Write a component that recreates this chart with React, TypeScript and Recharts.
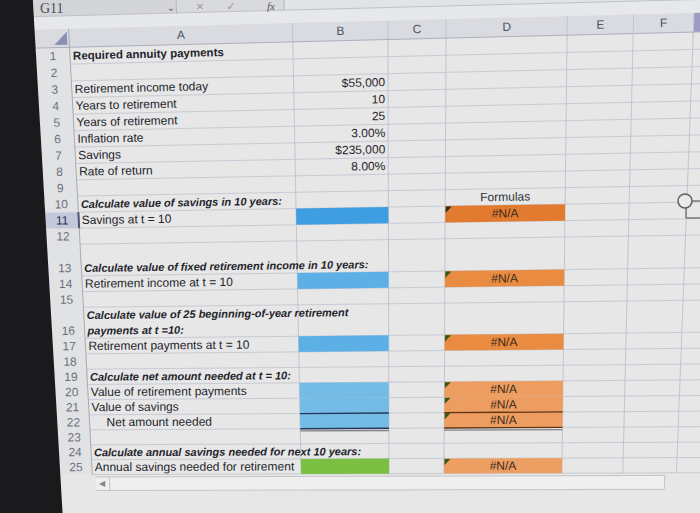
import React from "react";
import {
  ComposedChart,
  XAxis,
  YAxis,
  Scatter,
  ReferenceArea,
  ReferenceLine,
  ReferenceDot,
} from "recharts";

// ---------------- data ----------------
const columnLetters = ["A", "B", "C", "D", "E", "F"];
const rowNumbers = [1, 2, 3, 4, 5, 6, 7, 8, 9, 10, 11, 12, 13, 14, 15, 16, 17, 18, 19, 20, 21, 22, 23, 24, 25];

const labelRows = [1, 3, 4, 5, 6, 7, 8, 10, 11, 13, 14, 16, 16, 17, 19, 20, 21, 22, 24, 25];
const labelTexts = [
  "Required annuity payments",
  "Retirement income today",
  "Years to retirement",
  "Years of retirement",
  "Inflation rate",
  "Savings",
  "Rate of return",
  "Calculate value of savings in 10 years:",
  "Savings at t = 10",
  "Calculate value of fixed retirement income in 10 years:",
  "Retirement income at t = 10",
  "Calculate value of 25 beginning-of-year retirement",
  "payments at t =10:",
  "Retirement payments at t = 10",
  "Calculate net amount needed at t = 10:",
  "Value of retirement payments",
  "Value of savings",
  "Net amount needed",
  "Calculate annual savings needed for next 10 years:",
  "Annual savings needed for retirement",
];
const titleRows = [1];
const headingRows = [10, 13, 16, 19, 24];
const indentedRows = [22];

const inputRows = [3, 4, 5, 6, 7, 8];
const inputValues = ["$55,000", "10", "25", "3.00%", "$235,000", "8.00%"];

const formulaHeaderRow = 10;
const formulaHeaderText = "Formulas";
const resultRows = [11, 14, 17, 20, 21, 22, 25];
const resultValues = ["#N/A", "#N/A", "#N/A", "#N/A", "#N/A", "#N/A", "#N/A"];

const answerRows = [11, 14, 17, 20, 21, 22, 25];
const answerKinds = ["blue", "blue", "blue", "blue", "blue", "blue", "green"];

const selectedRow = 11;
const nameBoxText = "G11";

// ---------------- layout & style ----------------
const FONT = "'Liberation Sans', Arial, sans-serif";
const W = 700;
const H = 513;
const COL_EDGES = [70, 293, 388, 446, 567, 633, 693]; // left of A .. right of F
const ROWHEAD_LEFT = 36;
const DOUBLE_ROWS = [13, 16];
const SHIFT_PTS: [number, number][] = [
  [0, 26], [70, 22], [293, 8], [388, 1], [446, -2], [567, -5], [633, -10], [700, -17],
];

const B_FILL: Record<number, string> = {
  11: "#3f9de2", 14: "#5cb0e6", 17: "#5cb0e6", 20: "#74bbe6", 21: "#74bbe6", 22: "#74bbe6",
};
const GREEN_FILL = "#7cc043";
const D_FILL: Record<number, string> = {
  11: "#e27b2f", 14: "#e98b40", 17: "#e98b40", 20: "#ed9d60", 21: "#ed9d60", 22: "#ed9d60", 25: "#ed9e62",
};

type Pt = { x: number; y: number };

function bx(X: number): number {
  if (X <= SHIFT_PTS[0][0]) return SHIFT_PTS[0][1];
  for (let i = 1; i < SHIFT_PTS.length; i++) {
    const [x0, y0] = SHIFT_PTS[i - 1];
    const [x1, y1] = SHIFT_PTS[i];
    if (X <= x1) return y0 + ((y1 - y0) * (X - x0)) / (x1 - x0);
  }
  return SHIFT_PTS[SHIFT_PTS.length - 1][1];
}
function slope(Y: number) {
  return -0.025 + (0.022 * (Y - 35)) / 433;
}
function warp(X: number, Y: number): Pt {
  const t = (Y - 55) / 413;
  return { x: X + t * bx(X), y: Y + slope(Y) * (X - 100) };
}
function tiltDeg(Y: number) {
  return (Math.atan(slope(Y)) * 180) / Math.PI;
}
function edgeY(u: number) {
  return 46.56 + 16.9 * u - 0.039 * u * u;
}
function unitStart(r: number) {
  let u = r - 1;
  if (r > 13) u++;
  if (r > 16) u++;
  return u;
}
function rowUnits(r: number) {
  return DOUBLE_ROWS.includes(r) ? 2 : 1;
}
const rowTop = (r: number) => edgeY(unitStart(r));
const rowBottom = (r: number) => edgeY(unitStart(r) + rowUnits(r));
const lineY = (r: number, line = -1) => {
  const n = rowUnits(r);
  const idx = line < 0 ? n - 1 : line;
  return edgeY(unitStart(r) + idx + 0.5);
};
const SHEET_TOP = edgeY(0);
const SHEET_BOTTOM = edgeY(27);
const colLeft = (c: number) => COL_EDGES[c];
const colRight = (c: number) => COL_EDGES[c + 1];

// ---------------- element builders ----------------
function poly(key: string, pts: Pt[], fill: string, z: number) {
  const xs = pts.map((p) => p.x);
  const ys = pts.map((p) => p.y);
  const x1 = Math.min(...xs);
  const x2 = Math.max(...xs);
  const y1 = Math.min(...ys);
  const y2 = Math.max(...ys);
  const w = x2 - x1 || 1;
  const h = y2 - y1 || 1;
  const fr = pts.map((p) => [(p.x - x1) / w, (p.y - y1) / h]);
  const shape = (props: any) => {
    const { x, y, width, height } = props;
    const points = fr.map(([fx, fy]) => `${x + fx * width},${y + fy * height}`).join(" ");
    return <polygon points={points} fill={fill} stroke="none" />;
  };
  return (
    <ReferenceArea
      key={key}
      x1={x1}
      x2={x2}
      y1={y1}
      y2={y2}
      ifOverflow="visible"
      zIndex={z}
      shape={shape}
    />
  );
}
function cell(key: string, Xl: number, Xr: number, Yt: number, Yb: number, fill: string, z: number) {
  return poly(key, [warp(Xl, Yt), warp(Xr, Yt), warp(Xr, Yb), warp(Xl, Yb)], fill, z);
}
function seg(key: string, a: Pt, b: Pt, stroke: string, width: number, z: number) {
  return (
    <ReferenceLine
      key={key}
      segment={[a, b]}
      stroke={stroke}
      strokeWidth={width}
      ifOverflow="visible"
      zIndex={z}
    />
  );
}
function hline(key: string, Y: number, X0: number, X1: number, stroke: string, width: number, z: number) {
  const stops = [X0, ...COL_EDGES.filter((e) => e > X0 && e < X1), X1];
  const out: React.ReactElement[] = [];
  for (let i = 1; i < stops.length; i++) {
    out.push(seg(`${key}-${i}`, warp(stops[i - 1], Y), warp(stops[i], Y), stroke, width, z));
  }
  return out;
}
function vline(key: string, X: number, Y0: number, Y1: number, stroke: string, width: number, z: number) {
  return seg(key, warp(X, Y0), warp(X, Y1), stroke, width, z);
}

type TextItem = {
  x: number;
  y: number;
  text: string;
  anchor: "start" | "middle" | "end";
  size: number;
  weight?: string;
  italic?: boolean;
  color: string;
  family?: string;
  angle?: number;
  baseline?: string;
};

function sheetText(X: number, Y: number, text: string, o: Partial<TextItem>): TextItem {
  const p = warp(X, Y);
  return {
    x: p.x,
    y: p.y,
    text,
    anchor: o.anchor ?? "start",
    size: o.size ?? 12,
    weight: o.weight,
    italic: o.italic,
    color: o.color ?? "#24242c",
    angle: tiltDeg(Y),
  };
}

// ---------------- build texts ----------------
const textItems: TextItem[] = [];
columnLetters.forEach((c, i) => {
  textItems.push(
    sheetText((colLeft(i) + colRight(i)) / 2, 37, c, { anchor: "middle", color: "#4e515c", size: 12 })
  );
});
rowNumbers.forEach((r) => {
  textItems.push(
    sheetText(53, lineY(r), String(r), {
      anchor: "middle",
      color: r === selectedRow ? "#2c3458" : "#6d707c",
      size: 12,
    })
  );
});
const seenRow: Record<number, number> = {};
labelRows.forEach((r, i) => {
  const line = seenRow[r] ?? 0;
  seenRow[r] = line + 1;
  const isDoubleText = labelRows.filter((x) => x === r).length > 1;
  const Y = isDoubleText ? lineY(r, line) : lineY(r);
  const heading = headingRows.includes(r);
  const title = titleRows.includes(r);
  textItems.push(
    sheetText(indentedRows.includes(r) ? 88 : 73, Y, labelTexts[i], {
      anchor: "start",
      size: heading ? 11 : title ? 11.5 : 12,
      weight: heading || title ? "bold" : "normal",
      italic: heading,
    })
  );
});
inputRows.forEach((r, i) => {
  textItems.push(sheetText(colRight(1) - 3, lineY(r), inputValues[i], { anchor: "end", color: "#26262c" }));
});
textItems.push(
  sheetText((colLeft(3) + colRight(3)) / 2, lineY(formulaHeaderRow), formulaHeaderText, {
    anchor: "middle",
    color: "#2d303a",
  })
);
resultRows.forEach((r, i) => {
  textItems.push(
    sheetText((colLeft(3) + colRight(3)) / 2, lineY(r), resultValues[i], { anchor: "middle", color: "#3a2a1e" })
  );
});
// window chrome text (formula bar, scroll arrow)
const chromeTexts: TextItem[] = [
  { x: 40, y: 12.5, text: nameBoxText, anchor: "start", size: 14, color: "#4c4c50", family: "'Liberation Serif', serif", baseline: "alphabetic" },
  { x: 171, y: 7, text: "⌄", anchor: "middle", size: 10, color: "#666", family: "'DejaVu Sans', sans-serif" },
  { x: 200, y: 6, text: "✕", anchor: "middle", size: 10, color: "#9a9a9e", family: "'DejaVu Sans', sans-serif" },
  { x: 231, y: 6, text: "✓", anchor: "middle", size: 11, color: "#9a9a9e", family: "'DejaVu Sans', sans-serif" },
  { x: 271, y: 6, text: "fx", anchor: "middle", size: 11, italic: true, color: "#555", family: "'Liberation Serif', serif" },
];
const scrollY = SHEET_BOTTOM + 9;
const arrowPt = warp(80, scrollY);
chromeTexts.push({ x: arrowPt.x, y: arrowPt.y, text: "◀", anchor: "middle", size: 8, color: "#85878a", family: "'DejaVu Sans', sans-serif" });
const allTexts = [...textItems, ...chromeTexts];

const TextShape = (props: any) => {
  const { cx, cy, payload } = props;
  if (cx == null || cy == null || !payload) return <g />;
  const p = payload as TextItem;
  return (
    <text
      x={cx}
      y={cy}
      textAnchor={p.anchor}
      dominantBaseline={p.baseline ?? "central"}
      fontFamily={p.family ?? FONT}
      fontSize={p.size}
      fontWeight={p.weight ?? "normal"}
      fontStyle={p.italic ? "italic" : "normal"}
      fill={p.color}
      transform={p.angle ? `rotate(${p.angle.toFixed(3)} ${cx} ${cy})` : undefined}
    >
      {p.text}
    </text>
  );
};

// ---------------- build shapes ----------------
function buildShapes(): React.ReactElement[] {
  const els: React.ReactElement[] = [];
  // backgrounds
  els.push(cell("bg-name", ROWHEAD_LEFT - 10, 178, -30, 15, "#d4d5d9", 10));
  els.push(cell("bg-icons", 178, 285, -30, 15, "#d9dadd", 10));
  els.push(cell("bg-input", 285, 740, -30, 15, "#e2e3e5", 10));
  els.push(cell("bg-gap", ROWHEAD_LEFT - 10, 740, 15, 28, "#e7e8ea", 10));
  els.push(cell("bg-header", ROWHEAD_LEFT - 10, 740, 28, SHEET_TOP, "#dadbe0", 10));
  els.push(cell("bg-rowhead", ROWHEAD_LEFT - 10, colLeft(0), SHEET_TOP, SHEET_BOTTOM, "#e1e2e4", 10));
  els.push(cell("bg-selrow", ROWHEAD_LEFT - 10, colLeft(0), rowTop(selectedRow), rowBottom(selectedRow), "#c3c8da", 11));
  els.push(cell("bg-selcol", COL_EDGES[6], 740, 28, SHEET_TOP, "#9d9bc3", 11));
  els.push(poly("corner", [warp(68, 31), warp(68, 44), warp(55, 44)], "#8a90b4", 11));
  els.push(cell("scroll", 73, 680, SHEET_BOTTOM + 2.5, SHEET_BOTTOM + 16, "#eeefee", 11));

  // lines
  els.push(...hline("fb", 15, ROWHEAD_LEFT - 10, 740, "#bfc1c6", 1, 20));
  els.push(vline("fs1", 178, -30, 15, "#b3b5ba", 1, 20));
  els.push(vline("fs2", 285, -30, 15, "#b3b5ba", 1, 20));
  const edgesU: number[] = [];
  for (let u = 1; u <= 27; u++) if (u !== 13 && u !== 17) edgesU.push(u);
  edgesU.forEach((u) => els.push(...hline(`h${u}`, edgeY(u), colLeft(0), 740, "#c8cad6", 1, 20)));
  COL_EDGES.slice(1).forEach((x, i) => els.push(vline(`v${i}`, x, 28, SHEET_BOTTOM, "#c2c4d0", 1, 20)));
  els.push(vline("vA", colLeft(0), 28, SHEET_BOTTOM, "#a6a9b8", 1, 21));
  els.push(...hline("hh", SHEET_TOP, ROWHEAD_LEFT - 10, 740, "#acafc0", 1, 21));
  // scrollbar outline
  els.push(...hline("sb1", SHEET_BOTTOM + 2.5, 73, 680, "#c3c5c4", 1, 21));
  els.push(...hline("sb2", SHEET_BOTTOM + 16, 73, 680, "#c3c5c4", 1, 21));
  els.push(vline("sb3", 680, SHEET_BOTTOM + 2.5, SHEET_BOTTOM + 16, "#c3c5c4", 1, 21));
  els.push(vline("sb4", 88, SHEET_BOTTOM + 2.5, SHEET_BOTTOM + 16, "#c3c5c4", 1, 21));

  // answer cells (column B)
  answerRows.forEach((r, i) => {
    const fill = answerKinds[i] === "green" ? GREEN_FILL : B_FILL[r];
    els.push(cell(`b${r}`, colLeft(1), colRight(1), rowTop(r), rowBottom(r), fill, 30));
  });
  // result cells (column D)
  resultRows.forEach((r) => {
    const L = colLeft(3);
    els.push(cell(`d${r}`, L, colRight(3), rowTop(r), rowBottom(r), D_FILL[r], 30));
    els.push(
      poly(
        `tri${r}`,
        [warp(L + 0.5, rowTop(r) + 0.5), warp(L + 6.5, rowTop(r) + 0.5), warp(L + 0.5, rowTop(r) + 6.5)],
        r === 11 ? "#2b2f1c" : "#34561f",
        31
      )
    );
  });
  // borders (underline + double underline)
  const y21 = rowBottom(21);
  const y22 = rowBottom(22);
  els.push(seg("u21b", warp(colLeft(1), y21), warp(colRight(1), y21), "#22385a", 1.3, 40));
  els.push(seg("u21d", warp(colLeft(3), y21), warp(colRight(3), y21), "#5e3414", 1.3, 40));
  els.push(seg("u22b", warp(colLeft(1), y22), warp(colRight(1), y22), "#22385a", 1.3, 40));
  els.push(seg("u22d", warp(colLeft(3), y22), warp(colRight(3), y22), "#5e3414", 1.3, 40));
  els.push(seg("u22b2", warp(colLeft(1), y22 + 2.2), warp(colRight(1), y22 + 2.2), "#808287", 1.3, 40));
  els.push(seg("u22d2", warp(colLeft(3), y22 + 2.2), warp(colRight(3), y22 + 2.2), "#808287", 1.3, 40));
  // selected row header marker
  els.push(vline("selbar", colLeft(0), rowTop(selectedRow), rowBottom(selectedRow), "#4d5478", 2, 41));

  // dark photo edge on the left
  const topEdge = warp(ROWHEAD_LEFT, 0);
  const botEdge = warp(ROWHEAD_LEFT, H);
  els.push(
    poly(
      "edge",
      [
        { x: 0, y: 0 },
        { x: topEdge.x, y: 0 },
        { x: botEdge.x, y: H },
        { x: 0, y: H },
      ],
      "#1a1a1c",
      50
    )
  );

  // shape handle at right edge
  els.push(seg("hl1", { x: 692, y: 201 }, { x: 700, y: 201 }, "#6a6a6a", 1.3, 45));
  els.push(seg("hl2", { x: 686, y: 208 }, { x: 686, y: 218 }, "#6a6a6a", 1.3, 45));
  els.push(seg("hl3", { x: 686, y: 218 }, { x: 700, y: 218 }, "#6a6a6a", 1.3, 45));
  els.push(
    <ReferenceDot
      key="handle"
      x={685}
      y={201}
      r={7}
      fill="#e9eae9"
      stroke="#5f5f5f"
      strokeWidth={1.5}
      ifOverflow="visible"
      zIndex={46}
    />
  );
  return els;
}

export default function App() {
  const shapes = buildShapes();
  return (
    <div
      style={{
        position: "absolute",
        left: 0,
        top: 0,
        width: W,
        height: H,
        background: "#e6e7e6",
        overflow: "hidden",
      }}
    >
      <ComposedChart width={W} height={H} margin={{ top: 0, right: 0, bottom: 0, left: 0 }}>
        <XAxis type="number" dataKey="x" domain={[0, W]} allowDataOverflow hide />
        <YAxis type="number" dataKey="y" domain={[0, H]} allowDataOverflow reversed hide />
        {shapes}
        <Scatter
          data={allTexts}
          dataKey="y"
          shape={TextShape}
          isAnimationActive={false}
          zIndex={600}
        />
      </ComposedChart>
    </div>
  );
}
